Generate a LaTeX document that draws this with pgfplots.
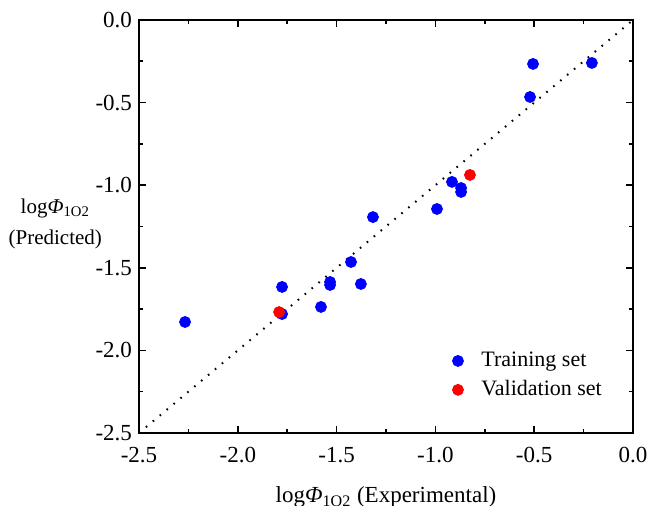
\documentclass[border=0pt]{standalone}
\usepackage{fontspec}
\setmainfont{Liberation Serif}
\usepackage{pgfplots}
\pgfplotsset{compat=1.18}

\newcommand{\logphi}{log\textit{Φ}\textsubscript{1O2}}

\begin{document}
\begin{tikzpicture}
\begin{axis}[
  scale only axis,
  width=247pt, height=206.5pt,
  xmin=-2.5, xmax=0, ymin=-2.5, ymax=0,
  xtick={-2.5,-2,...,0}, ytick={-2.5,-2,...,0},
  minor x tick num=1, minor y tick num=1,
  tick align=inside,
  major tick length=3.5pt, minor tick length=2pt,
  every tick/.style={black, line width=0.8pt},
  axis line style={line width=1pt},
  tick label style={font=\fontsize{11.5}{13}\selectfont},
  /pgf/number format/assume math mode=true,
  xticklabel style={yshift=-3.5pt, /pgf/number format/.cd, fixed, fixed zerofill, precision=1},
  yticklabel style={/pgf/number format/.cd, fixed, fixed zerofill, precision=1},
  xlabel={\logphi\ (Experimental)},
  ylabel={\logphi\\(Predicted)},
  every axis x label/.style={at={(axis description cs:0.5,0)}, anchor=base, yshift=-35pt, font=\fontsize{11.5}{13}\selectfont},
  every axis y label/.style={at={(axis description cs:0,0.5)}, anchor=east, xshift=-15pt, yshift=1.5pt, align=center, font=\fontsize{10.5}{15.5}\selectfont},
  legend style={draw=none, fill=none, at={(0.958,0.062)}, anchor=south east,
    font=\fontsize{11}{13.2}\selectfont, row sep=1.5pt,
    /tikz/every odd column/.append style={column sep=7pt}},
  legend cell align=left,
]
\addplot[black, line width=1pt, dash pattern=on 0.8pt off 3.7pt, forget plot]
  coordinates {(-2.5,-2.5) (0,0)};
\addplot[only marks, mark=*, mark size=2.75pt, draw=blue, fill=blue] coordinates {
  (-2.267,-1.828) (-1.776,-1.616) (-1.776,-1.780) (-1.579,-1.737)
  (-1.533,-1.586) (-1.533,-1.604) (-1.427,-1.465) (-1.377,-1.598)
  (-1.316,-1.193) (-0.992,-1.144) (-0.916,-0.980) (-0.870,-1.017)
  (-0.870,-1.041) (-0.521,-0.466) (-0.506,-0.266) (-0.208,-0.260)
};
\addlegendentry{Training set}
\addplot[only marks, mark=*, mark size=2.75pt, draw=red, fill=red] coordinates {
  (-1.791,-1.768) (-0.825,-0.938)
};
\addlegendentry{Validation set}
\end{axis}
\pgfresetboundingbox
\path (-69.5pt,-36.5pt) rectangle (257.5pt,216.5pt);
\end{tikzpicture}
\end{document}
